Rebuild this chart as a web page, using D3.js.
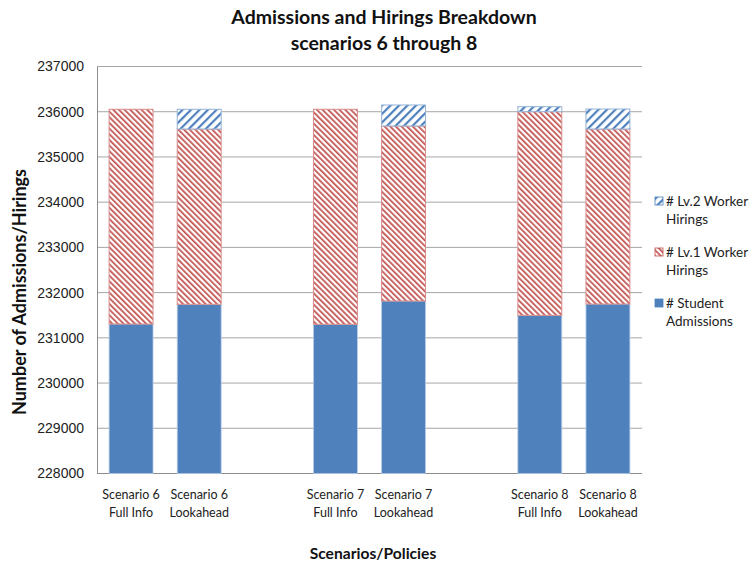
<!DOCTYPE html>
<html>
<head>
	<title>Admissions and Hirings Breakdown</title>
	<script src="https://d3js.org/d3.v7.min.js"></script>
	<style>
	body{
		margin: 0;
		background: #ffffff;
		font-family: Lato, "Open Sans", Arial;
	}
	.tick text{
		font-size: 14px;
		fill: #222222;
	}
	</style>
</head>
<body>
	<div id="chart"></div>
	<script>
		var categories = ["Scenario 6|Full Info", "Scenario 6|Lookahead", "gap1",
			"Scenario 7|Full Info", "Scenario 7|Lookahead", "gap2",
			"Scenario 8|Full Info", "Scenario 8|Lookahead"];
		var studentAdmissions = [231306, 231742, null, 231300, 231815, null, 231498, 231748];
		var lv1Hirings = [4748, 3876, null, 4754, 3870, null, 4503, 3870];
		var lv2Hirings = [0, 436, null, 0, 464, null, 111, 442];
		var yTicks = [228000, 229000, 230000, 231000, 232000, 233000, 234000, 235000, 236000, 237000];
		var seriesNames = ["# Student|Admissions", "# Lv.1 Worker|Hirings", "# Lv.2 Worker|Hirings"];

		var width = 753, height = 567;
		var margin = {top: 66.5, right: 111, bottom: 93.5, left: 97};
		var innerW = width - margin.left - margin.right,
			innerH = height - margin.top - margin.bottom;

		var svg = d3.select("#chart").append("svg")
			.attr("width", width)
			.attr("height", height);

		var defs = svg.append("defs");
		// red downward diagonal
		var p1 = defs.append("pattern")
			.attr("id", "lv1")
			.attr("patternUnits", "userSpaceOnUse")
			.attr("width", 4).attr("height", 4)
			.attr("patternTransform", "rotate(-45)");
		p1.append("rect").attr("width", 4).attr("height", 4).attr("fill", "#ffffff");
		p1.append("rect").attr("width", 1.7).attr("height", 4).attr("fill", "#C0504D");
		// blue upward diagonal
		var p2 = defs.append("pattern")
			.attr("id", "lv2")
			.attr("patternUnits", "userSpaceOnUse")
			.attr("width", 6).attr("height", 6)
			.attr("patternTransform", "rotate(45)");
		p2.append("rect").attr("width", 6).attr("height", 6).attr("fill", "#ffffff");
		p2.append("rect").attr("width", 2.2).attr("height", 6).attr("fill", "#4F81BD");

		var g = svg.append("g")
			.attr("transform", "translate(" + margin.left + "," + margin.top + ")");

		var x = d3.scaleBand()
			.domain(categories)
			.range([0, innerW])
			.paddingInner(0.355)
			.paddingOuter(0.1775);

		var y = d3.scaleLinear()
			.domain([228000, 237000])
			.range([innerH, 0]);

		// gridlines
		g.selectAll(".grid")
			.data(yTicks.slice(1))
			.enter().append("line")
			.attr("class", "grid")
			.attr("x1", 0).attr("x2", innerW)
			.attr("y1", function(d){return y(d);})
			.attr("y2", function(d){return y(d);})
			.attr("stroke", "#a6a6a6")
			.attr("stroke-width", 1);

		var yAxis = g.append("g")
			.call(d3.axisLeft(y).tickValues(yTicks).tickFormat(d3.format("d")).tickSize(0).tickPadding(13));
		yAxis.select(".domain").attr("stroke", "#8c8c8c");

		g.append("line")
			.attr("x1", 0).attr("x2", innerW)
			.attr("y1", innerH).attr("y2", innerH)
			.attr("stroke", "#8c8c8c");

		var data = categories.map(function(c, i){
			return {cat: c, s: studentAdmissions[i], l1: lv1Hirings[i], l2: lv2Hirings[i]};
		}).filter(function(d){return d.s !== null;});

		var bars = g.selectAll(".bar")
			.data(data)
			.enter().append("g");

		bars.append("rect")
			.attr("x", function(d){return x(d.cat);})
			.attr("width", x.bandwidth())
			.attr("y", function(d){return y(d.s);})
			.attr("height", function(d){return innerH - y(d.s);})
			.attr("fill", "#4F81BD")
			.attr("stroke", "#b9cde5")
			.attr("stroke-width", 0.8);

		bars.append("rect")
			.attr("x", function(d){return x(d.cat);})
			.attr("width", x.bandwidth())
			.attr("y", function(d){return y(d.s + d.l1);})
			.attr("height", function(d){return y(d.s) - y(d.s + d.l1);})
			.attr("fill", "url(#lv1)")
			.attr("stroke", "#D98C8B")
			.attr("stroke-width", 1);

		bars.filter(function(d){return d.l2 > 0;})
			.append("rect")
			.attr("x", function(d){return x(d.cat);})
			.attr("width", x.bandwidth())
			.attr("y", function(d){return y(d.s + d.l1 + d.l2);})
			.attr("height", function(d){return y(d.s + d.l1) - y(d.s + d.l1 + d.l2);})
			.attr("fill", "url(#lv2)")
			.attr("stroke", "#95B3D7")
			.attr("stroke-width", 1);

		// category labels
		var catLabels = g.selectAll(".cat")
			.data(data)
			.enter().append("text")
			.attr("text-anchor", "middle")
			.attr("font-size", "12.5px")
			.attr("fill", "#222222")
			.attr("transform", function(d){return "translate(" + (x(d.cat) + x.bandwidth() / 2) + "," + (innerH + 25) + ")";});
		catLabels.append("tspan").attr("x", 0).attr("dy", 0).text(function(d){return d.cat.split("|")[0];});
		catLabels.append("tspan").attr("x", 0).attr("dy", 18).text(function(d){return d.cat.split("|")[1];});

		// titles
		var title = svg.append("text")
			.attr("text-anchor", "middle")
			.attr("font-size", "19.5px")
			.attr("font-weight", "bold")
			.attr("fill", "#111111");
		title.append("tspan").attr("x", 384).attr("y", 24).text("Admissions and Hirings Breakdown");
		title.append("tspan").attr("x", 384).attr("y", 50).text("scenarios 6 through 8");

		svg.append("text")
			.attr("text-anchor", "middle")
			.attr("font-size", "15.6px")
			.attr("font-weight", "bold")
			.attr("fill", "#111111")
			.attr("x", 373).attr("y", 559)
			.text("Scenarios/Policies");

		svg.append("text")
			.attr("text-anchor", "middle")
			.attr("font-size", "18px")
			.attr("font-weight", "bold")
			.attr("fill", "#111111")
			.attr("transform", "translate(26,292) rotate(-90)")
			.text("Number of Admissions/Hirings");

		// legend
		var legendFills = ["#4F81BD", "url(#lv1)", "url(#lv2)"];
		var legendStrokes = ["#4F81BD", "#C0504D", "#4F81BD"];
		var legendY = [308, 257, 206];
		var legend = svg.selectAll(".legend")
			.data(seriesNames)
			.enter().append("g")
			.attr("transform", function(d, i){return "translate(655," + legendY[i] + ")";});
		legend.append("rect")
			.attr("x", 0).attr("y", -9)
			.attr("width", 8).attr("height", 8)
			.attr("fill", function(d, i){return legendFills[i];})
			.attr("stroke", function(d, i){return legendStrokes[i];})
			.attr("stroke-width", 0.8);
		var legendText = legend.append("text")
			.attr("font-size", "13.5px")
			.attr("fill", "#222222");
		legendText.append("tspan").attr("x", 11).attr("y", 0).text(function(d){return d.split("|")[0];});
		legendText.append("tspan").attr("x", 11).attr("y", 18).text(function(d){return d.split("|")[1];});
	</script>
</body>
</html>
